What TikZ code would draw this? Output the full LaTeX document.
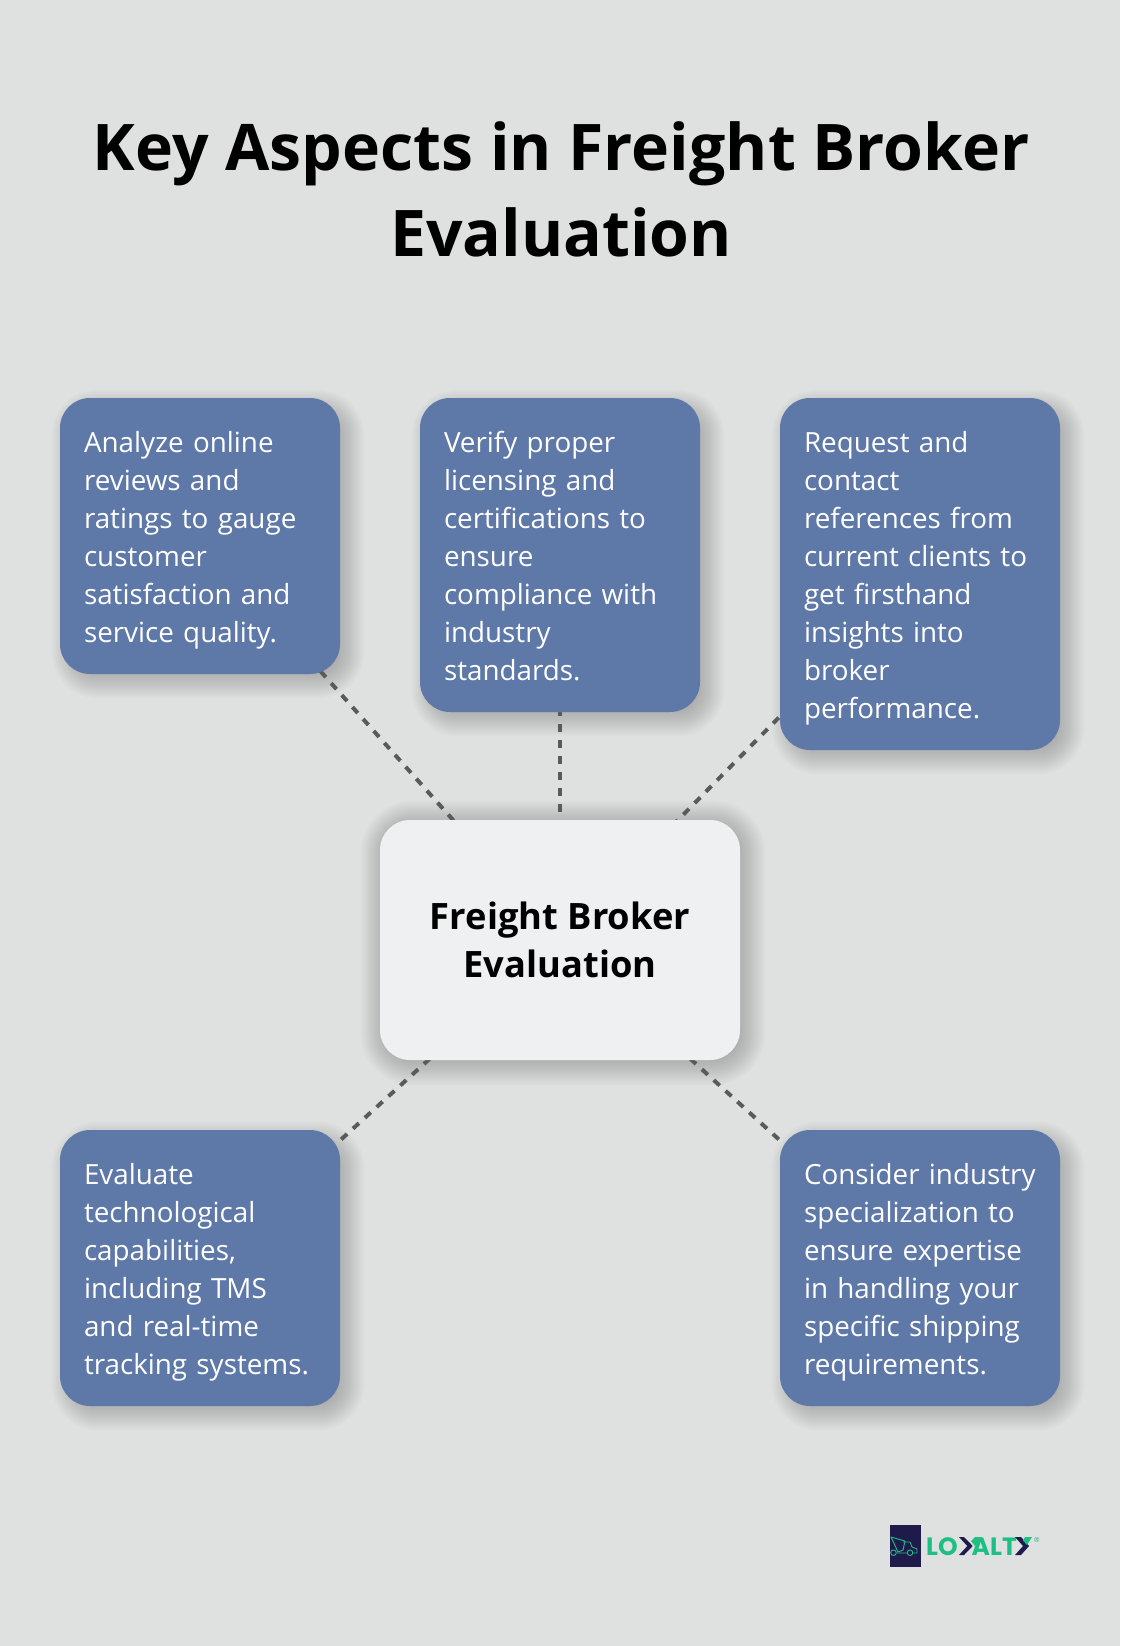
\documentclass[tikz,border=0pt]{standalone}
\usepackage{fontspec}
\setmainfont{Open Sans}
\newfontfamily\logofont{Poppins}
\usetikzlibrary{backgrounds,calc}
\definecolor{pagegray}{HTML}{DFE1E0}
\definecolor{boxblue}{HTML}{5E78A8}
\definecolor{centerwhite}{HTML}{EFF0F2}
\definecolor{linegray}{HTML}{5A5A5A}
\definecolor{logonavy}{HTML}{1E1B4B}
\definecolor{logogreen}{HTML}{1DBF85}
\newcommand{\linestrut}{\rule[-8pt]{0pt}{38pt}}
\tikzset{
	aspect/.style={fill=boxblue, text=white, rounded corners=30pt, minimum width=280pt, text width=232pt, inner sep=0pt, align=left, font=\fontsize{27.8}{38}\selectfont, execute at begin node=\linestrut, execute at end node=\linestrut},
	hub/.style={fill=centerwhite, text=black, rounded corners=30pt, minimum width=360pt, minimum height=240pt, align=center, font=\fontsize{36.3}{47.5}\selectfont\bfseries, execute at begin node=\rule{0pt}{36pt}},
	spoke/.style={draw=linegray, line width=4pt, dash pattern=on 8pt off 8pt},
	logoline/.style={draw=logogreen, line width=0.9pt, line join=round}
}
\begin{document}
\begin{tikzpicture}[x=1pt, y=-1pt]
	\useasboundingbox (0,0) rectangle (1120,1646);
	
	% Title
	\node[align=center, font=\fontsize{64.3}{86}\selectfont\bfseries] (title) at (561,189) {Key Aspects in Freight Broker\\Evaluation};
	
	% Centre and the five boxes
	\node[hub] (hub) at (560,940) {Freight Broker\\Evaluation};
	\node[aspect, minimum height=276pt] (reviews) at (200,536) {Analyze online\\reviews and\\ratings to gauge\\customer\\satisfaction and\\service quality.};
	\node[aspect, minimum height=314pt] (licensing) at (560,555) {Verify proper\\licensing and\\certifications to\\ensure\\compliance with\\industry\\standards.};
	\node[aspect, minimum height=352pt] (references) at (920,574) {Request and\\contact\\references from\\current clients to\\get firsthand\\insights into\\broker\\performance.};
	\node[aspect, minimum height=276pt] (technology) at (200,1268) {Evaluate\\technological\\capabilities,\\including TMS\\and real-time\\tracking systems.};
	\node[aspect, minimum height=276pt] (specialty) at (920,1268) {Consider industry\\specialization to\\ensure expertise\\in handling your\\specific shipping\\requirements.};
	
	\begin{scope}[on background layer]
		\fill[pagegray] (0,0) rectangle (1120,1646);
		
		% Soft shadows, built up from stacked outlines
		\foreach \card/\off/\reach in {hub/3/22,reviews/8/16,licensing/8/16,references/8/16,technology/8/16,specialty/8/16}{
			\foreach \grow in {-14,-12,...,\reach}{
				\fill[black, opacity=0.014, rounded corners=30pt+\grow pt] ($(\card.north west)+(\off-\grow,\off-\grow)$) rectangle ($(\card.south east)+(\off+\grow,\off+\grow)$);
			}
		}
		
		% Spokes run centre to centre, the boxes cover the rest
		\foreach \card in {reviews,licensing,references,technology,specialty}{
			\draw[spoke] (hub.center) -- (\card.center);
		}
	\end{scope}
	
	% Logo
	\node[fill=logonavy, minimum width=31pt, minimum height=42pt, inner sep=0pt] (badge) at (905.3,1546) {};
	\draw[logoline] (891,1537) -- (905,1541) -- (903,1550) -- (898,1552) -- cycle;
	\draw[logoline] (903,1542) -- (910,1542) -- (912,1547) -- (917,1549) -- (917,1553) -- (913,1553) (897,1553) -- (907,1553);
	\draw[logoline] (893.5,1552.7) circle (2.8pt) (910,1552.7) circle (2.8pt);
	\node[font=\logofont\fontsize{25}{25}\selectfont\bfseries, text=logogreen, anchor=base west, inner sep=0pt] (wordstart) at (926,1555) {LO};
	\node[font=\logofont\fontsize{25}{25}\selectfont\bfseries, text=logogreen, anchor=base east, inner sep=0pt] (wordmid) at (1017,1555) {ALT};
	\fill[logonavy] (959,1537) -- (964,1537) -- (972.7,1546) -- (964,1555) -- (959,1555) -- (967.3,1546) -- cycle;
	\fill[logogreen] (975,1537) -- (982,1537) -- (975,1546) -- (971,1541) -- cycle;
	\fill[logonavy] (1015,1537) -- (1021,1537) -- (1029,1546) -- (1021,1555) -- (1015,1555) -- (1023,1546) -- cycle;
	\fill[logogreen] (1025,1537) -- (1032,1537) -- (1027,1545) -- (1023,1540.5) -- cycle;
	\node[font=\fontsize{7}{7}\selectfont, text=logogreen!70!gray, inner sep=0pt] (regmark) at (1036.7,1540) {®};
\end{tikzpicture}
\end{document}
